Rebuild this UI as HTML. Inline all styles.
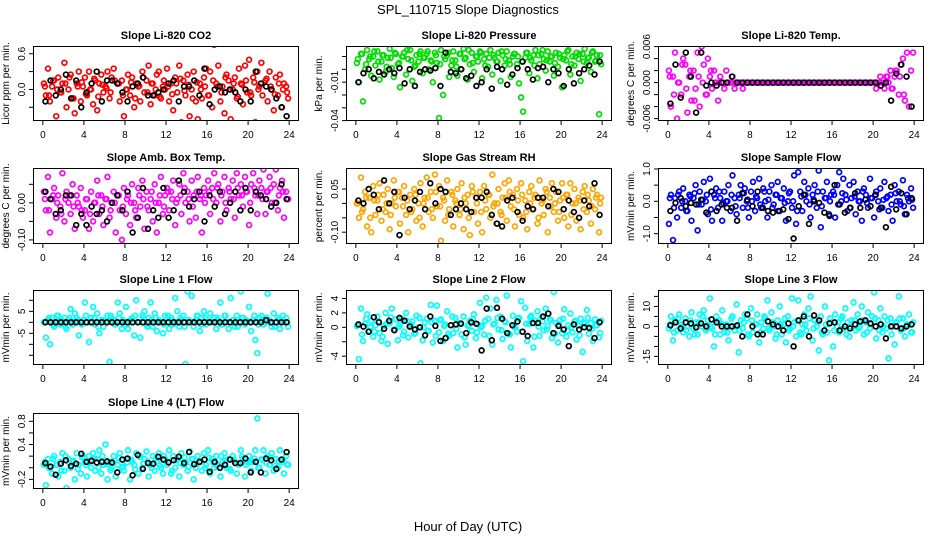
<!DOCTYPE html>
<html><head><meta charset="utf-8"><style>
html,body{margin:0;padding:0;background:#fff;}
svg{display:block;font-family:"Liberation Sans",Arial,sans-serif;}
</style></head><body>
<svg id="chart" width="936" height="540" viewBox="0 0 936 540">
<text x="468" y="14" text-anchor="middle" font-size="13">SPL_110715  Slope Diagnostics</text>
<text x="468" y="531" text-anchor="middle" font-size="13">Hour of Day (UTC)</text>
</svg>
<script>
// shared time categories (hours)
const hoursColored = [0.1,0.3,0.5,0.7,0.9,1.1,1.3,1.5,1.7,1.9,2.1,2.3,2.5,2.7,2.9,3.1,3.3,3.5,3.7,3.9,
4.1,4.3,4.5,4.7,4.9,5.1,5.3,5.5,5.7,5.9,6.1,6.3,6.5,6.7,6.9,7.1,7.3,7.5,7.7,7.9,
8.1,8.3,8.5,8.7,8.9,9.1,9.3,9.5,9.7,9.9,10.1,10.3,10.5,10.7,10.9,11.1,11.3,11.5,11.7,11.9,
12.1,12.3,12.5,12.7,12.9,13.1,13.3,13.5,13.7,13.9,14.1,14.3,14.5,14.7,14.9,15.1,15.3,15.5,15.7,15.9,
16.1,16.3,16.5,16.7,16.9,17.1,17.3,17.5,17.7,17.9,18.1,18.3,18.5,18.7,18.9,19.1,19.3,19.5,19.7,19.9,
20.1,20.3,20.5,20.7,20.9,21.1,21.3,21.5,21.7,21.9,22.1,22.3,22.5,22.7,22.9,23.1,23.3,23.5,23.7,23.9];
const hoursCore = [0.2,0.6,1.0,1.4,1.8,2.2,2.6,3.0,3.4,3.8,4.2,4.6,5.0,5.4,5.8,6.2,6.6,7.0,7.4,7.8,
8.2,8.6,9.0,9.4,9.8,10.2,10.6,11.0,11.4,11.8,12.2,12.6,13.0,13.4,13.8,14.2,14.6,15.0,15.4,15.8,
16.2,16.6,17.0,17.4,17.8,18.2,18.6,19.0,19.4,19.8,20.2,20.6,21.0,21.4,21.8,22.2,22.6,23.0,23.4,23.8];
const hoursBlack = [0.25,0.75,1.25,1.75,2.25,2.75,3.25,3.75,4.25,4.75,5.25,5.75,
6.25,6.75,7.25,7.75,8.25,8.75,9.25,9.75,10.25,10.75,11.25,11.75,
12.25,12.75,13.25,13.75,14.25,14.75,15.25,15.75,16.25,16.75,17.25,17.75,
18.25,18.75,19.25,19.75,20.25,20.75,21.25,21.75,22.25,22.75,23.25,23.75];
const xTicks = [0,4,8,12,16,20,24];

const co2Colored = [0.1,-0.1,0.35,-0.2,0.05,0.15,-0.45,0.2,-0.05,0.1,0.45,-0.3,0.0,0.25,-0.15,-0.4,0.1,0.3,-0.2,0.05,
0.2,-0.1,0.3,0.0,-0.25,0.15,-0.35,0.1,0.25,-0.05,0.05,0.3,-0.15,0.2,0.35,-0.6,0.1,-0.2,0.15,-0.45,
0.0,0.25,-0.1,0.2,-0.3,0.1,0.05,-0.2,0.3,-0.05,0.15,0.4,-0.25,0.1,-0.1,0.25,0.3,-0.15,0.05,0.0,
0.35,-0.2,0.1,-0.35,0.2,-0.05,0.4,-0.55,0.15,-0.1,0.25,-0.45,0.0,0.3,-0.2,-0.5,0.1,-0.15,0.2,0.35,
-0.1,0.3,-0.3,0.75,0.1,0.4,-0.2,0.05,-0.4,0.25,0.15,-0.5,0.0,0.2,-0.15,0.35,0.1,-0.25,0.4,-0.05,
0.5,-0.1,0.2,-0.55,0.3,0.05,0.45,-0.6,0.15,-0.2,0.3,0.0,-0.35,0.2,-0.1,0.25,-0.3,0.1,0.05,-0.15];
const co2Core = [0.05,-0.1,0.15,0.0,-0.05,0.1,0.2,-0.15,0.05,0.12,-0.08,0.0,0.18,-0.12,0.08,0.02,-0.05,0.15,0.1,-0.1,
0.0,0.12,-0.15,0.06,0.2,-0.05,0.1,0.0,-0.12,0.15,0.05,-0.08,0.1,0.18,-0.02,0.08,-0.15,0.12,0.0,0.05,
-0.1,0.15,0.05,-0.05,0.2,0.0,0.1,-0.12,0.08,0.15,-0.05,0.12,0.0,-0.1,0.18,0.05,-0.08,0.1,0.0,-0.05];
const co2Black = [-0.2,0.15,-0.1,0.0,0.25,-0.15,0.15,-0.3,-0.05,0.1,0.3,-0.2,
0.15,0.15,0.1,-0.05,-0.2,0.05,0.1,0.2,-0.1,-0.1,-0.05,0.0,
0.1,0.15,-0.2,0.05,0.05,0.15,-0.1,0.35,-0.25,0.0,0.05,-0.05,
0.0,-0.05,-0.2,0.0,-0.2,0.3,0.1,0.05,0.0,-0.15,-0.3,-0.45];

const presColored = [0.005,-0.01,0.012,-0.025,0.0,0.015,0.008,-0.005,0.01,0.003,0.014,-0.008,0.006,0.011,-0.002,0.009,0.016,0.001,-0.006,0.012,
0.004,-0.014,0.01,0.013,-0.004,0.008,0.015,-0.009,0.002,0.011,0.006,0.014,-0.003,0.009,0.012,0.0,0.007,-0.01,0.013,0.005,
-0.038,0.015,-0.02,0.008,0.011,-0.006,0.003,0.014,0.007,-0.005,0.012,0.0,0.016,0.009,-0.008,0.004,0.013,-0.002,0.01,0.006,
0.014,-0.007,0.008,0.012,0.002,0.015,-0.004,0.009,0.006,0.013,-0.009,0.011,0.003,0.014,0.007,-0.006,0.01,0.012,0.004,-0.011,
-0.022,-0.033,0.009,0.013,-0.003,0.007,0.011,0.015,-0.007,0.004,0.012,0.008,-0.001,0.014,0.006,0.01,-0.005,0.013,0.002,0.009,
-0.014,0.011,0.007,0.015,-0.004,0.01,0.003,0.013,0.008,-0.009,0.012,0.016,0.005,0.009,-0.002,0.014,0.006,0.011,-0.035,0.004];
const presCore = [0.008,0.012,0.004,0.01,0.014,0.006,0.011,0.002,0.009,0.013,0.005,0.01,0.015,0.007,0.003,0.012,0.009,0.014,0.006,0.011,
0.004,0.01,0.013,0.007,0.002,0.012,0.008,0.015,0.005,0.01,0.013,0.003,0.009,0.011,0.006,0.014,0.008,0.004,0.012,0.01,
0.006,0.013,0.009,0.003,0.011,0.015,0.007,0.01,0.005,0.012,0.008,0.014,0.004,0.01,0.012,0.006,0.009,0.013,0.007,0.011];
const presBlack = [-0.01,-0.003,0.0,-0.007,-0.002,-0.004,0.0,-0.003,0.001,-0.011,0.0,-0.013,
-0.002,0.0,-0.001,0.001,-0.013,0.013,-0.002,-0.003,0.0,-0.007,-0.005,-0.013,
-0.01,0.0,-0.015,0.002,0.0,-0.012,-0.004,0.001,0.006,0.0,-0.008,0.001,
0.002,-0.01,0.0,-0.003,-0.013,0.0,-0.011,-0.003,0.0,0.003,-0.004,0.006];

const tempColored = [0.002,-0.004,0.001,0.005,-0.006,0.0,-0.002,0.004,0.003,-0.005,0.001,-0.003,0.002,-0.001,0.005,-0.004,0.006,0.003,-0.002,0.004,
0.001,-0.001,0.002,0.0,-0.003,0.001,0.0,-0.001,0.002,0.0,0.0,0.001,-0.001,0.0,0.0,0.0,-0.001,0.0,0.0,0.0,
0,0,0,0,0,0,0,0,0,0,0,0,0,0,0,0,0,0,0,0,
0,0,0,0,0,0,0,0,0,0,0,0,0,0,0,0,0,0,0,0,
0,0,0,0,0,0,0,0,0,0,0,0,0,0,0,0,0,0,0,0,
0.0,-0.001,0.0,0.001,0.0,-0.001,0.001,0.0,0.002,-0.001,0.001,0.002,-0.002,0.003,0.004,-0.003,0.005,-0.004,0.002,0.005];
const tempCore = [0.001,-0.002,0.0,0.003,-0.001,0.002,-0.003,0.001,0.0,-0.002,0.002,0.0,
0,0,0,0,0,0,0,0,0,0,0,0,0,0,0,0,0,0,0,0,0,0,0,0,0,0,0,0,0,0,0,0,0,0,0,0,0,0,0,0,
0.0,0.001,-0.001,0.002,0.001,-0.002];
const tempBlack = [-0.0035,0.003,-0.0025,0.005,0.001,-0.005,0.005,-0.0005,0.0,-0.0005,0.0,0.0,
0.001,0,0,0,0,0,0,0,0,0,0,0,
0,0,0,0,0,0,0,0,0,0,0,0,
0,0,0,0,0,-0.0005,0.0,-0.003,0.0015,0.003,0.001,-0.004];

const ambColored = [0.03,-0.02,0.07,-0.08,0.01,0.04,-0.04,0.02,-0.01,0.08,-0.05,0.03,0.0,-0.03,0.05,-0.07,0.02,-0.01,0.04,-0.04,
-0.02,0.01,-0.07,0.03,-0.05,0.0,0.06,-0.03,0.02,-0.06,0.01,0.07,-0.04,0.0,0.03,-0.08,0.02,-0.02,-0.1,0.04,
-0.03,0.02,-0.06,0.05,0.0,-0.04,0.04,-0.01,0.06,-0.07,0.03,-0.02,0.01,-0.05,0.05,-0.08,0.0,0.07,-0.03,0.02,
0.04,-0.02,0.03,0.06,-0.06,0.01,0.05,-0.03,0.08,0.0,0.03,-0.05,0.06,0.02,-0.04,0.07,0.01,-0.08,0.04,0.02,
0.06,-0.03,0.04,0.08,0.0,0.05,-0.05,0.03,0.07,-0.02,0.04,0.01,0.06,-0.04,0.08,0.02,0.05,-0.01,0.07,0.03,
-0.06,0.05,0.08,0.02,-0.03,0.06,0.04,0.09,-0.03,0.03,0.07,0.0,0.05,0.09,-0.02,0.04,0.06,-0.04,0.03,0.01];
const ambCore = [0.01,-0.02,0.02,0.0,-0.03,0.01,0.02,-0.01,0.0,-0.02,0.01,-0.03,0.0,0.02,-0.01,0.01,-0.02,0.0,0.02,-0.01,
0.01,0.0,-0.02,0.02,0.01,-0.01,0.03,0.0,0.02,-0.01,0.03,0.01,0.0,0.02,0.04,0.01,-0.01,0.03,0.02,0.0,
0.03,0.01,0.04,0.02,0.0,0.03,0.01,0.04,0.02,0.03,0.0,0.04,0.02,0.01,0.03,0.04,0.0,0.02,0.03,0.01];
const ambBlack = [0.03,0.01,-0.03,-0.02,0.02,0.02,-0.06,-0.03,-0.06,-0.01,-0.03,-0.02,
-0.05,0.0,0.02,-0.02,0.03,-0.08,-0.04,0.04,-0.07,-0.02,-0.04,0.04,
-0.04,-0.02,0.06,0.03,-0.01,0.01,0.03,-0.05,0.02,-0.01,0.03,-0.03,
0.0,0.03,-0.02,0.04,-0.02,0.03,0.02,0.01,-0.01,0.0,0.05,0.01];

const rhColored = [0.0,-0.05,0.09,-0.02,0.04,-0.08,0.02,-0.1,0.06,-0.04,0.01,0.07,-0.06,0.03,-0.03,0.05,-0.09,0.0,0.08,-0.01,
0.04,-0.07,0.02,0.06,-0.04,-0.1,0.03,-0.02,0.05,-0.06,0.0,0.07,-0.08,0.02,0.09,-0.03,0.04,-0.05,0.1,-0.01,
0.06,-0.13,0.02,-0.06,0.08,-0.02,0.04,-0.08,0.01,0.05,-0.04,0.07,-0.09,0.0,0.03,-0.11,0.06,-0.03,0.02,-0.07,
0.04,-0.1,0.06,-0.02,0.03,-0.05,0.1,0.0,-0.07,0.05,-0.03,0.02,0.07,-0.06,0.08,-0.01,0.03,-0.08,0.05,-0.04,
0.07,-0.05,0.01,-0.09,0.04,0.06,-0.02,0.03,-0.07,0.08,0.0,-0.04,0.05,-0.1,0.02,0.07,-0.03,0.04,-0.06,0.01,
0.07,-0.05,0.03,-0.08,0.07,0.0,0.05,-0.06,0.02,-0.09,0.04,0.06,-0.03,0.01,-0.07,0.05,-0.02,0.03,-0.1,0.02];
const rhCore = [0.0,-0.03,0.02,-0.05,0.01,0.03,-0.02,0.0,-0.04,0.02,0.04,-0.01,0.01,-0.03,0.03,-0.05,0.0,0.02,-0.02,0.04,
-0.01,0.01,-0.04,0.03,0.0,-0.02,0.02,-0.05,0.04,0.0,-0.03,0.01,0.03,-0.01,0.0,-0.04,0.02,0.04,-0.02,0.01,
0.03,-0.03,0.0,0.02,-0.05,0.01,0.04,-0.01,0.0,-0.03,0.02,0.03,-0.04,0.0,0.01,-0.02,0.03,-0.01,0.02,0.0];
const rhBlack = [0.01,0.0,0.05,0.03,-0.02,0.08,0.0,0.04,-0.11,0.02,-0.02,0.01,
0.04,-0.02,0.07,0.0,0.05,0.04,-0.04,-0.02,0.0,-0.02,-0.03,0.02,
0.02,0.04,-0.04,-0.07,-0.08,0.01,0.02,-0.03,-0.06,-0.01,-0.02,0.02,
0.02,-0.01,0.05,0.04,-0.02,0.01,-0.03,-0.05,0.01,-0.01,0.07,-0.04];

const flowColored = [-0.7,0.2,-1.2,0.1,-0.5,0.3,-0.2,0.4,0.0,-0.3,0.2,-0.6,0.1,0.5,-0.9,0.3,-0.1,0.6,0.0,-0.4,
0.7,-0.6,0.2,0.4,-0.2,0.1,-0.6,0.3,0.0,0.5,-0.3,0.8,0.1,-0.4,0.2,0.5,-0.2,0.4,0.0,-0.5,
0.3,0.6,-0.3,0.1,0.7,-0.2,0.4,0.0,-0.5,0.3,0.5,-0.1,0.2,0.6,-0.3,0.1,0.4,-0.6,0.0,0.3,
-0.2,0.8,-0.7,0.9,0.3,-0.3,0.6,0.0,0.4,-0.5,0.2,0.5,-0.2,0.95,-0.8,0.3,0.1,0.6,-0.4,0.2,
0.3,-0.5,0.5,0.9,0.0,0.7,0.2,-0.3,0.5,0.1,0.6,-0.4,0.3,0.0,-0.6,0.4,0.2,-0.2,0.7,0.1,
-0.5,0.3,0.0,0.4,-0.2,0.6,0.1,-0.3,0.2,-0.6,0.5,0.0,0.3,-0.1,0.65,-0.4,0.2,0.0,0.4,-0.2];
const flowCore = [0.1,-0.2,0.2,0.0,-0.3,0.15,0.25,-0.1,0.05,0.2,-0.25,0.1,0.3,-0.05,0.0,0.2,-0.15,0.1,0.25,-0.2,
0.0,0.15,-0.1,0.3,0.05,-0.2,0.2,0.1,-0.05,0.25,0.0,-0.3,0.15,0.2,-0.1,0.05,0.3,-0.15,0.1,0.0,
0.2,-0.1,0.25,0.05,-0.2,0.15,0.0,0.3,-0.05,0.1,0.2,-0.25,0.05,0.15,-0.1,0.25,0.0,-0.15,0.1,0.05];
const flowBlack = [-0.3,-0.05,0.1,-0.15,-0.05,-0.1,0.05,-0.35,0.3,-0.3,-0.1,-0.2,
-0.2,-0.6,0.25,0.05,-0.15,0.3,-0.2,-0.3,-0.35,-0.3,-0.25,-0.55,
-1.15,-0.15,0.2,-0.7,0.0,-0.05,-0.35,-0.45,0.5,-0.1,-0.35,-0.2,
0.25,-0.2,0.05,-0.15,0.2,-0.2,-0.8,0.45,-0.25,0.25,-0.4,0.1];

const line1Colored = [0,-7,1,-10,2,-2,1,3,-1,0,2,-3,1,6,-1,4,2,-6,0,1,
9,0,-9,2,7,-1,4,-5,1,-2,0,3,-18,2,1,-1,9,4,-3,0,
7,-3,1,2,-6,10,0,-7,3,5,-1,2,9,-2,4,-4,1,0,-5,3,
0,-3,2,-1,11,5,-2,1,3,-19,14,0,12,-2,1,3,-4,2,5,-1,
-21,4,0,2,-3,1,9,-1,3,0,-3,11,1,-2,3,0,14,2,-1,0,
7,-4,1,-8,-14,2,3,-1,0,13,1,-2,4,0,2,-3,1,0,2,-2];
const line1Core = [0,2,-1,3,1,-2,2,0,1,-1,3,0,2,-2,1,0,3,-1,2,1,
-1,1,3,0,2,-2,1,2,0,-1,3,1,0,2,-2,1,0,3,-1,2,
1,0,2,-1,3,0,1,-2,2,1,0,3,-1,1,2,0,-2,1,3,0];
const line1Black = [0,0,0,0,0,0,0,0,0,0,0,0,
0,0,0,0,0,0,0,0,0,0,0,0,
0,0,0,0,0,0,0,0,0,0,0,0,
0,0,0,0,0,0,0,1,0,0,0,0];

const line2Colored = [0.2,-4.4,2.6,-1.9,0.5,1.8,-0.5,0.9,-1.3,0.3,1.5,-0.8,-1.9,0.2,2.0,-2.3,0.6,2.6,-0.3,1.1,
-1.8,0.4,1.2,-0.6,2.0,-1.4,0.3,0.8,-0.9,1.6,0.0,-5.0,-1.8,0.7,1.2,-0.5,3.1,-2.1,0.9,3.0,
-0.7,1.1,-1.9,0.4,2.2,-1.2,0.3,-0.8,1.3,-2.8,0.6,-1.0,1.5,-2.4,0.2,0.9,-0.5,1.8,-1.5,0.4,
3.4,0.2,-1.0,4.1,1.2,2.6,-2.4,0.5,3.8,-0.3,1.5,-1.6,0.8,4.4,-0.9,-2.8,1.6,0.0,-0.6,1.3,
3.6,-4.7,2.7,-1.9,0.5,1.6,-2.8,0.9,2.2,-1.2,1.4,-0.4,2.6,0.2,1.1,-1.5,4.9,0.6,-2.1,1.0,
-0.8,2.5,-1.3,0.3,1.9,-0.7,0.8,-1.7,0.2,1.2,-3.4,0.5,2.4,-0.9,0.6,-1.9,1.1,0.3,-1.4,0.9];
const line2Core = [0.3,-1.0,1.2,0.0,-0.6,0.8,-1.3,0.5,1.4,-0.3,0.1,-1.1,0.9,0.4,-0.8,1.3,0.0,-0.5,0.7,-1.2,
1.0,0.2,-0.9,1.5,-0.2,0.6,-1.4,0.3,1.1,-0.7,0.0,0.9,-1.2,0.4,1.3,-0.4,0.7,-1.0,0.2,1.2,
-0.6,0.5,1.4,-1.3,0.1,0.8,-0.3,1.0,-0.9,0.4,1.2,-0.5,0.0,0.9,-1.1,0.6,1.3,-0.2,0.3,-0.8];
const line2Black = [0.4,0.1,-0.6,1.4,0.7,-0.2,0.9,-0.4,1.3,0.9,0.1,-0.3,
0.0,-1.1,1.5,0.2,-1.9,-1.5,0.3,0.4,0.5,-0.8,0.7,0.5,
-3.2,2.6,-1.8,2.7,1.2,-0.8,0.3,0.8,-0.6,-1.2,0.6,0.6,
1.5,1.9,-0.8,0.2,-0.3,-2.6,0.4,-0.3,0.0,-0.1,-1.5,0.7];

const line3Colored = [-1,5,-7,3,-2,6,1,-3,4,0,-5,7,-1,2,-4,6,0,8,-2,3,
14,-1,-10,5,2,-4,8,-3,1,-7,0,5,-2,11,-13,3,-1,6,4,-5,
9,-3,1,6,-8,2,-1,4,13,-2,7,0,-6,3,10,-4,1,-8,5,-1,
14,2,-5,13,-3,1,6,-2,9,15,-7,3,0,-12,5,-4,10,-3,-17,2,
-10,6,0,-3,4,-1,9,2,-5,3,12,-2,6,0,10,-4,2,7,-1,5,
17,-6,3,9,-3,5,-1,-16,4,0,-9,2,15,-2,4,-5,1,6,-3,2];
const line3Core = [1,-3,4,0,-2,3,-4,2,5,-1,0,-4,3,1,-3,4,0,-2,2,-4,
3,1,-3,5,-1,2,-4,1,4,-2,0,3,-4,1,4,-1,2,-3,1,4,
-2,2,5,-4,0,3,-1,3,-3,1,4,-2,0,3,-4,2,4,-1,1,-3];
const line3Black = [0.5,2,-1,2,1.5,-0.5,1.5,0,3.5,2,0,0,
0,0.5,-5,6,0,-4,-4,2.5,1,0,-2,1.5,
-10,3,5,-5,5.5,3,-2,1.5,2,-2,0,-1,
1,2.5,3,1.5,0,1,-6,0,0,-1,0,1];

const line4Colored = [0.05,-0.3,0.15,0.0,-0.1,0.2,0.05,-0.15,0.1,0.25,-0.05,-0.35,0.15,0.0,0.1,-0.2,0.25,0.05,-0.1,0.2,
0.1,-0.15,0.2,0.0,0.25,-0.05,0.15,0.3,-0.1,0.05,0.4,-0.2,0.1,0.0,0.2,-0.15,0.05,0.25,0.0,-0.05,
0.15,0.3,-0.2,0.1,0.05,0.25,-0.1,0.2,0.0,0.15,0.28,-0.15,0.05,0.2,-0.05,0.1,0.25,0.0,-0.1,0.15,
0.05,0.3,-0.1,0.2,0.0,0.15,-0.15,0.25,0.05,0.1,-0.05,0.28,0.15,-0.2,0.0,0.2,0.1,-0.05,0.25,0.05,
0.3,-0.1,0.15,0.0,0.2,0.05,-0.15,0.1,0.25,0.0,0.15,-0.05,0.2,0.1,-0.1,0.05,0.3,0.15,-0.15,0.1,
0.2,-0.05,0.1,0.3,0.85,0.0,0.15,0.3,-0.1,0.2,0.05,0.25,-0.05,0.15,0.0,0.3,0.1,-0.1,0.2,0.05];
const line4Core = [0.1,0.0,0.15,0.05,-0.05,0.2,0.08,0.12,-0.02,0.18,0.05,0.1,0.15,0.0,0.2,0.06,-0.04,0.12,0.17,0.02,
0.09,0.14,-0.03,0.19,0.07,0.11,0.0,0.16,0.04,0.2,0.1,-0.05,0.13,0.08,0.18,0.02,0.15,0.06,0.11,0.0,
0.17,0.09,0.03,0.2,0.12,-0.02,0.14,0.07,0.19,0.05,0.1,0.16,0.0,0.13,0.08,0.18,0.03,0.11,0.15,0.06];
const line4Black = [0.08,0.02,-0.12,0.07,0.13,0.03,0.07,0.24,0.1,0.12,0.09,0.1,
0.11,0.09,-0.08,0.14,0.16,-0.13,0.22,-0.02,0.08,0.07,0.19,0.14,
0.09,0.13,0.19,0.08,0.27,0.06,0.1,0.14,-0.07,0.1,0.0,0.05,
0.14,0.08,0.08,0.16,-0.08,0.1,-0.08,0.16,0.13,-0.02,0.14,0.27];

const panelTitles = ["Slope Li-820 CO2","Slope Li-820 Pressure","Slope Li-820 Temp.","Slope Amb. Box Temp.","Slope Gas Stream RH","Slope Sample Flow","Slope Line 1 Flow","Slope Line 2 Flow","Slope Line 3 Flow","Slope Line 4 (LT) Flow"];
const yTitles = ["Licor ppm per min.","kPa per min.","degrees C per min.","degrees C per min.","percent per min.","mVmin per min.","mVmin per min.","mVmin per min.","mVmin per min.","mVmin per min."];
const yLimits = [[-0.53,0.73],[-0.0403,0.0182],[-0.0064,0.0061],[-0.111,0.094],[-0.141,0.123],[-1.32,1.03],[-19.4,14.7],[-5.22,5.17],[-19.3,18.2],[-0.366,0.943]];
const yTickValues = [[-0.6,-0.3,0,0.3,0.6],[-0.04,-0.03,-0.02,-0.01,0,0.01],[-0.006,-0.004,-0.002,0,0.002,0.004,0.006],[-0.1,-0.05,0,0.05],[-0.1,-0.05,0,0.05],[-1,-0.5,0,0.5,1],[-20,-15,-10,-5,0,5,10],[-4,-2,0,2,4],[-15,-10,-5,0,5,10,15],[-0.2,0,0.2,0.4,0.6,0.8]];
const yTickLabels = [["-0.6","","0.0","","0.6"],["-0.04","","","-0.01","",""],["-0.006","","","0.000","","","0.006"],["-0.10","","0.00",""],["-0.10","","","0.05"],["-1.0","","0.0","","1.0"],["-20","","","-5","","5",""],["-4","","0","2","4"],["-15","","","0","","10",""],["-0.2","","","0.4","","0.8"]];
const coloredSeries = [co2Colored,presColored,tempColored,ambColored,rhColored,flowColored,line1Colored,line2Colored,line3Colored,line4Colored];
const coreSeries = [co2Core,presCore,tempCore,ambCore,rhCore,flowCore,line1Core,line2Core,line3Core,line4Core];
const blackSeries = [co2Black,presBlack,tempBlack,ambBlack,rhBlack,flowBlack,line1Black,line2Black,line3Black,line4Black];
const seriesColors = ["#ff0000","#00dd00","#ff00ff","#ff00ff","#ffa500","#0000ff","#00ffff","#00ffff","#00ffff","#00ffff"];

const NS = "http://www.w3.org/2000/svg";
const svg = document.getElementById("chart");
const colLeft = [33,346,658], colRight = [299,612,924];
const rowTop = [46,168,290,413], rowBottom = [121,244,365,489];
const X0 = -0.96, X1 = 24.96;
function mk(tag, attrs, parent){const e=document.createElementNS(NS,tag);for(const k in attrs)e.setAttribute(k,attrs[k]);(parent||svg).appendChild(e);return e;}

for (let p = 0; p < panelTitles.length; p++) {
  const col = p % 3, row = Math.floor(p / 3);
  const L = colLeft[col], R = colRight[col], T = rowTop[row], B = rowBottom[row];
  const ylo = yLimits[p][0], yhi = yLimits[p][1];
  const sx = v => L + (v - X0) / (X1 - X0) * (R - L);
  const sy = v => B - (v - ylo) / (yhi - ylo) * (B - T);
  const g = mk("g", {});
  
  
  const cid = "clip" + p;
  const cp = mk("clipPath", {id: cid}, g);
  mk("rect", {x: L, y: T, width: R - L, height: B - T}, cp);
  const title = mk("text", {x: (L + R) / 2, y: T - 7, "text-anchor": "middle", "font-size": "11", "font-weight": "bold"}, g);
  title.textContent = panelTitles[p];
  
  
  const yt = mk("text", {transform: "translate(" + (L - 24) + "," + ((T + B) / 2) + ") rotate(-90)", "text-anchor": "middle", "font-size": "10"}, g);
  yt.textContent = yTitles[p];
  
  
  const pts = mk("g", {"clip-path": "url(#" + cid + ")", fill: "none", "stroke-width": "1.7"}, g);
  const cs = coloredSeries[p];
  for (let i = 0; i < cs.length && i < hoursColored.length; i++) {
    const c = mk("circle", {cx: sx(hoursColored[i]).toFixed(1), cy: sy(cs[i]).toFixed(1), r: 2.4, stroke: seriesColors[p]}, pts);
    
    
  }
  const cr = coreSeries[p];
  for (let i = 0; i < cr.length && i < hoursCore.length; i++) {
    const c = mk("circle", {cx: sx(hoursCore[i]).toFixed(1), cy: sy(cr[i]).toFixed(1), r: 2.4, stroke: seriesColors[p]}, pts);
    
    
  }
  const bs = blackSeries[p];
  for (let i = 0; i < bs.length && i < hoursBlack.length; i++) {
    const c = mk("circle", {cx: sx(hoursBlack[i]).toFixed(1), cy: sy(bs[i]).toFixed(1), r: 2.4, stroke: "#000"}, pts);
    
    
  }
  const box = mk("rect", {x: L + 0.5, y: T + 0.5, width: R - L - 1, height: B - T - 1, fill: "none", stroke: "#000", "stroke-width": "1"}, g);
  
  
  for (const xv of xTicks) {
    const x = sx(xv);
    mk("line", {x1: x, x2: x, y1: B, y2: B + 4, stroke: "#000"}, g);
    const t = mk("text", {x: x, y: B + 17, "text-anchor": "middle", "font-size": "10"}, g);
    t.textContent = String(xv);
    
    
  }
  const tv = yTickValues[p], tl = yTickLabels[p];
  for (let k = 0; k < tv.length; k++) {
    const y = sy(tv[k]);
    if (y < T - 1 || y > B + 1) continue;
    mk("line", {x1: L - 4, x2: L, y1: y, y2: y, stroke: "#000"}, g);
    if (tl[k]) {
      const t = mk("text", {transform: "translate(" + (L - 8) + "," + y + ") rotate(-90)", "text-anchor": "middle", "font-size": "10"}, g);
      t.textContent = tl[k];
      
      
    }
  }
}
</script>
</body></html>
